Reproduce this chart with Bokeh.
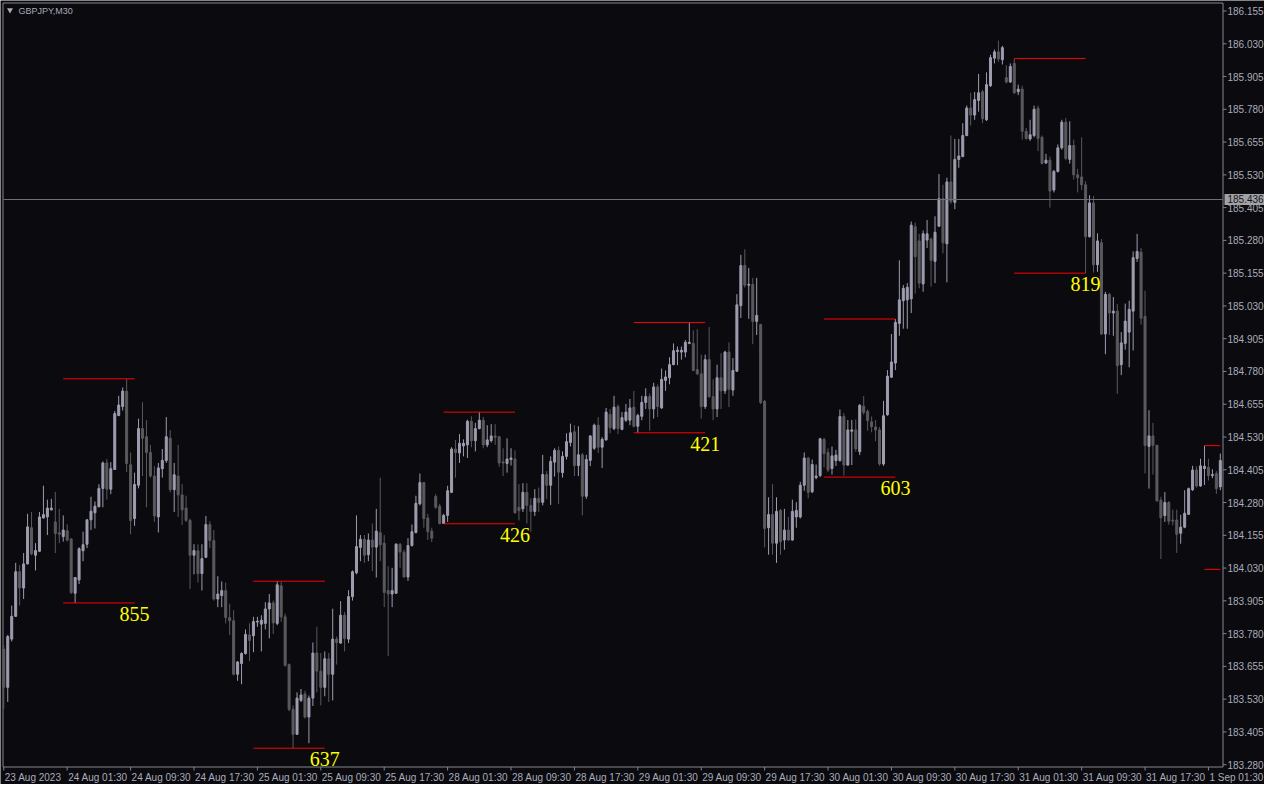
from bokeh.plotting import figure
from bokeh.models import ColumnDataSource, Range1d
from bokeh.core.properties import value
from bokeh.embed import file_html
from bokeh.resources import INLINE

# ---------------- data (GBPJPY, M30) ----------------
opens = [
183.721,183.575,183.759,183.846,184.016,183.954,184.046,184.184,184.079,184.094,
184.221,184.225,184.252,184.206,184.165,184.150,184.172,184.141,183.934,183.985,
184.096,184.121,184.214,184.241,184.264,184.334,184.431,184.331,184.406,184.612,
184.646,184.705,184.424,184.219,184.346,184.562,184.531,184.471,184.381,184.225,
184.409,184.440,184.525,184.329,184.381,184.309,184.259,184.212,184.079,184.096,
184.009,184.071,184.196,184.135,183.912,183.925,183.944,183.841,183.829,183.625,
183.666,183.704,183.775,183.772,183.824,183.816,183.819,183.874,183.897,183.819,
183.962,183.844,183.662,183.491,183.396,183.525,183.550,183.462,183.534,183.706,
183.637,183.575,183.684,183.625,183.759,183.744,183.850,183.759,183.921,184.012,
184.109,184.140,184.081,184.137,184.110,184.165,184.125,183.944,183.931,183.934,
184.121,184.091,183.996,184.116,184.166,184.275,184.356,184.221,184.171,184.303,
184.266,184.200,184.231,184.319,184.484,184.469,184.496,184.500,184.590,184.516,
184.562,184.594,184.500,184.516,184.534,184.531,184.435,184.429,184.444,184.446,
184.262,184.256,184.319,184.269,184.246,184.296,184.281,184.387,184.346,184.434,
184.479,184.394,184.456,184.509,184.550,184.421,184.462,184.304,184.441,184.487,
184.575,184.491,184.519,184.616,184.562,184.646,184.559,184.594,184.594,184.644,
184.571,184.609,184.662,184.684,184.637,184.721,184.641,184.746,184.756,184.806,
184.856,184.854,184.854,184.887,184.887,184.787,184.771,184.646,184.825,184.684,
184.637,184.756,184.706,184.854,184.709,184.781,185.031,185.184,185.109,185.112,
184.971,184.959,184.666,184.184,184.234,184.125,184.250,184.137,184.175,184.137,
184.225,184.225,184.346,184.450,184.321,184.375,184.383,184.521,184.471,184.410,
184.440,184.440,184.608,184.423,184.552,184.557,184.474,184.648,184.628,184.588,
184.568,184.557,184.427,184.615,184.758,184.812,184.963,185.050,185.053,185.057,
185.332,185.278,185.114,185.281,185.285,185.200,185.334,185.439,185.267,185.503,
185.425,185.589,185.600,185.680,185.785,185.758,185.814,185.847,185.740,185.870,
185.975,185.999,185.969,185.901,185.884,185.955,185.847,185.857,185.696,185.667,
185.680,185.784,185.673,185.575,185.586,185.472,185.543,185.633,185.731,185.589,
185.642,185.530,185.522,185.492,185.294,185.423,185.187,185.271,184.923,185.074,
185.003,185.010,184.806,184.887,184.930,185.010,185.211,185.235,184.990,184.494,
184.534,184.498,184.289,184.230,184.280,184.213,184.213,184.163,184.186,184.235,
184.329,184.404,184.343,184.410,184.414,184.383,184.391,184.340]

highs = [
183.737,183.775,183.887,184.050,184.041,184.087,184.237,184.244,184.125,184.244,
184.344,184.291,184.294,184.321,184.256,184.231,184.197,184.144,183.996,184.109,
184.169,184.216,184.302,184.284,184.350,184.437,184.446,184.434,184.629,184.687,
184.719,184.752,184.471,184.394,184.600,184.662,184.594,184.500,184.419,184.431,
184.484,184.606,184.556,184.431,184.500,184.350,184.306,184.219,184.121,184.121,
184.121,184.229,184.209,184.175,183.999,183.979,183.975,183.894,183.869,183.675,
183.709,183.796,183.819,183.844,183.844,183.850,183.900,183.931,183.906,183.980,
183.977,183.856,183.666,183.506,183.556,183.569,183.562,183.544,183.746,183.806,
183.706,183.712,183.706,183.875,183.769,183.904,183.862,183.946,184.021,184.231,
184.156,184.156,184.162,184.200,184.256,184.375,184.156,184.037,184.031,184.125,
184.125,184.100,184.144,184.196,184.306,184.391,184.359,184.237,184.184,184.312,
184.275,184.237,184.344,184.491,184.519,184.541,184.521,184.596,184.609,184.584,
184.625,184.606,184.575,184.579,184.579,184.534,184.487,184.525,184.487,184.479,
184.350,184.354,184.354,184.296,184.331,184.337,184.462,184.400,184.456,184.487,
184.494,184.475,184.544,184.581,184.575,184.571,184.469,184.462,184.537,184.581,
184.606,184.529,184.641,184.637,184.687,184.654,184.625,184.656,184.675,184.706,
184.619,184.687,184.716,184.696,184.737,184.731,184.791,184.784,184.834,184.887,
184.875,184.875,184.900,184.967,184.937,184.941,184.844,184.844,184.950,184.750,
184.806,184.850,184.859,184.891,184.831,185.075,185.225,185.246,185.175,185.137,
185.137,184.962,184.671,184.300,184.350,184.300,184.256,184.256,184.225,184.291,
184.281,184.359,184.471,184.454,184.444,184.425,184.527,184.527,184.487,184.494,
184.481,184.635,184.621,184.595,184.595,184.597,184.655,184.686,184.635,184.608,
184.595,184.568,184.668,184.785,184.923,184.980,185.204,185.110,185.117,185.352,
185.348,185.305,185.318,185.358,185.291,185.372,185.533,185.492,185.519,185.680,
185.667,185.667,185.727,185.794,185.843,185.846,185.915,185.854,185.921,185.988,
186.008,186.042,186.022,185.948,185.955,185.974,185.874,185.870,185.709,185.740,
185.794,185.794,185.680,185.610,185.600,185.549,185.646,185.740,185.747,185.734,
185.664,185.553,185.673,185.506,185.452,185.449,185.307,185.285,185.084,185.080,
185.064,185.037,184.930,185.039,185.050,185.238,185.305,185.251,185.088,184.632,
184.584,184.501,184.302,184.320,184.286,184.253,184.253,184.233,184.327,184.337,
184.420,184.418,184.447,184.497,184.447,184.407,184.400,184.467]

lows = [
183.494,183.519,183.750,183.844,183.887,183.912,184.044,184.079,184.021,184.091,
184.219,184.156,184.250,184.087,184.125,184.131,184.131,183.931,183.897,183.969,
184.056,184.106,184.175,184.181,184.262,184.262,184.291,184.312,184.404,184.609,
184.631,184.396,184.159,184.191,184.334,184.381,184.262,184.375,184.206,184.166,
184.375,184.431,184.319,184.244,184.225,184.194,184.206,183.950,184.006,183.975,
183.944,184.069,184.106,183.906,183.881,183.881,183.819,183.775,183.621,183.600,
183.587,183.700,183.675,183.709,183.806,183.712,183.796,183.762,183.779,183.812,
183.825,183.654,183.484,183.343,183.394,183.519,183.456,183.362,183.504,183.556,
183.506,183.541,183.519,183.525,183.662,183.741,183.712,183.744,183.906,184.006,
184.056,184.050,184.056,184.019,183.994,184.056,183.881,183.694,183.881,183.931,
184.031,183.994,183.981,184.112,184.162,184.269,184.184,184.137,184.129,184.256,
184.196,184.199,184.206,184.316,184.375,184.431,184.456,184.450,184.491,184.475,
184.559,184.487,184.491,184.509,184.500,184.416,184.381,184.394,184.421,184.237,
184.212,184.244,184.200,184.169,184.229,184.244,184.269,184.294,184.271,184.379,
184.275,184.375,184.444,184.494,184.381,184.381,184.231,184.294,184.419,184.481,
184.469,184.412,184.516,184.544,184.556,184.541,184.556,184.587,184.575,184.566,
184.546,184.594,184.637,184.554,184.600,184.606,184.637,184.706,184.731,184.804,
184.804,184.825,184.834,184.884,184.781,184.766,184.600,184.637,184.679,184.594,
184.606,184.637,184.694,184.644,184.687,184.779,184.984,185.100,184.981,184.884,
184.919,184.656,184.109,184.081,184.081,184.050,184.081,184.100,184.134,184.134,
184.184,184.219,184.325,184.296,184.316,184.369,184.377,184.414,184.396,184.387,
184.420,184.436,184.383,184.420,184.423,184.474,184.461,184.615,184.554,184.548,
184.514,184.420,184.420,184.611,184.755,184.785,184.916,184.943,184.943,185.003,
185.077,185.097,185.084,185.251,185.104,185.117,185.332,185.231,185.120,185.419,
185.399,185.557,185.597,185.677,185.718,185.740,185.771,185.727,185.736,185.865,
185.955,185.961,185.951,185.878,185.881,185.838,185.834,185.664,185.664,185.660,
185.673,185.620,185.570,185.573,185.405,185.463,185.539,185.626,185.586,185.573,
185.512,185.463,185.472,185.155,185.291,185.157,185.160,184.919,184.846,184.919,
184.916,184.695,184.766,184.863,184.796,184.860,185.198,184.959,184.391,184.333,
184.387,184.284,184.065,184.206,184.195,184.193,184.088,184.123,184.182,184.233,
184.324,184.337,184.340,184.347,184.364,184.373,184.313,184.327]

closes = [
183.575,183.769,183.846,184.016,183.954,184.046,184.187,184.084,184.097,184.225,
184.234,184.259,184.259,184.162,184.159,184.175,184.137,183.937,183.994,184.104,
184.119,184.214,184.247,184.266,184.334,184.431,184.331,184.409,184.619,184.652,
184.705,184.429,184.211,184.349,184.562,184.525,184.471,184.381,184.229,184.412,
184.441,184.531,184.329,184.386,184.309,184.252,184.212,184.079,184.097,184.009,
184.066,184.196,184.135,183.912,183.931,183.944,183.841,183.829,183.625,183.672,
183.704,183.777,183.754,183.826,183.827,183.831,183.874,183.897,183.821,183.966,
183.844,183.659,183.491,183.396,183.534,183.546,183.462,183.534,183.706,183.637,
183.575,183.684,183.625,183.759,183.746,183.850,183.762,183.921,184.016,184.112,
184.140,184.079,184.137,184.110,184.171,184.119,183.937,183.931,183.944,184.121,
184.091,183.996,184.116,184.169,184.277,184.356,184.219,184.169,184.144,184.262,
184.200,184.231,184.325,184.484,184.471,184.506,184.506,184.590,184.516,184.562,
184.594,184.500,184.519,184.534,184.529,184.431,184.431,184.446,184.450,184.241,
184.249,184.319,184.269,184.246,184.296,184.281,184.387,184.346,184.437,184.479,
184.396,184.456,184.512,184.546,184.421,184.462,184.304,184.444,184.534,184.575,
184.491,184.521,184.625,184.566,184.644,184.562,184.604,184.625,184.641,184.571,
184.612,184.662,184.684,184.637,184.721,184.646,184.750,184.759,184.806,184.859,
184.861,184.861,184.891,184.891,184.784,184.771,184.646,184.825,184.684,184.637,
184.756,184.706,184.854,184.712,184.784,185.034,185.184,185.109,185.112,184.971,
184.994,184.662,184.181,184.234,184.125,184.246,184.131,184.175,184.137,184.246,
184.250,184.346,184.450,184.319,184.425,184.381,184.523,184.467,184.404,184.458,
184.461,184.608,184.423,184.557,184.557,184.485,184.651,184.624,184.592,184.570,
184.557,184.427,184.611,184.762,184.816,184.967,185.053,185.097,185.101,185.338,
185.218,185.117,185.305,185.305,185.204,185.311,185.439,185.271,185.503,185.428,
185.589,185.602,185.680,185.785,185.758,185.817,185.843,185.744,185.874,185.977,
185.999,185.972,186.015,185.884,185.943,185.843,185.857,185.696,185.669,185.683,
185.780,185.669,185.573,185.586,185.468,185.543,185.633,185.731,185.593,185.642,
185.530,185.519,185.492,185.294,185.423,185.187,185.278,184.923,185.074,185.003,
185.010,184.802,184.889,184.972,185.017,185.214,185.238,184.983,184.498,184.534,
184.498,184.286,184.222,184.280,184.209,184.209,184.159,184.186,184.239,184.333,
184.404,184.343,184.420,184.418,184.383,184.387,184.333,184.440]

# time-axis labels (every 16 bars of M30)
x_tick_bars = [0, 16, 32, 48, 64, 80, 96, 112, 128, 144,
               160, 176, 192, 208, 224, 240, 256, 272, 288, 304]
x_tick_labels = ["23 Aug 2023", "24 Aug 01:30", "24 Aug 09:30", "24 Aug 17:30",
                 "25 Aug 01:30", "25 Aug 09:30", "25 Aug 17:30", "28 Aug 01:30",
                 "28 Aug 09:30", "28 Aug 17:30", "29 Aug 01:30", "29 Aug 09:30",
                 "29 Aug 17:30", "30 Aug 01:30", "30 Aug 09:30", "30 Aug 17:30",
                 "31 Aug 01:30", "31 Aug 09:30", "31 Aug 17:30", "1 Sep 01:30"]

# price-axis labels
y_ticks = [183.280, 183.405, 183.530, 183.655, 183.780, 183.905, 184.030, 184.155,
           184.280, 184.405, 184.530, 184.655, 184.780, 184.905, 185.030, 185.155,
           185.280, 185.405, 185.530, 185.655, 185.780, 185.905, 186.030, 186.155]

# swing-range indicator: bar span, high, low
swing_start = [15, 63, 111, 159, 207, 255, 303]
swing_end = [33, 81, 129, 177, 225, 273, 321]
swing_high = [184.752, 183.980, 184.625, 184.967, 184.980, 185.974, 184.497]
swing_low = [183.897, 183.343, 184.199, 184.546, 184.377, 185.155, 184.025]

bid_price = 185.436
symbol = "GBPJPY,M30"

# ---------------- styling / layout ----------------
BG = "#0a0a0f"
FRAME = "#85858f"
TEXT = "#a9acba"
BULL = "#9d9daf"
BEAR = "#5a5a5e"
FONT = "Liberation Sans"

W, H = 1264, 784
X0_PX = 3.3            # screen x of bar 0
AXIS_PX = 1222.5       # screen x of the price-axis line
AXIS_BAR = 307.675     # bar position of the price-axis line
c = (AXIS_PX - X0_PX) / AXIS_BAR          # px per bar
P_REF, Y_REF_PX = 186.155, 10.5           # top tick price and its screen y
P_BOT, Y_BOT_PX = 183.2712, 766.5         # price at the time-axis line
k = (Y_BOT_PX - Y_REF_PX) / (P_REF - P_BOT)   # px per price unit


def bx(px):
    return (px - X0_PX) / c


def py(px):
    return P_REF - (px - Y_REF_PX) / k


p = figure(width=W, height=H, x_range=Range1d(bx(0), bx(W)), y_range=Range1d(py(H), py(0)),
           output_backend="svg", toolbar_location=None,
           x_axis_location=None, y_axis_location=None,
           background_fill_color=BG, border_fill_color=BG,
           min_border_left=0, min_border_top=0, min_border_right=0, min_border_bottom=0)
p.outline_line_color = None
p.xgrid.visible = False
p.ygrid.visible = False

# chart border (left/top) + axis lines (right/bottom)
p.quad(left=[bx(2.5)], right=[bx(AXIS_PX)], top=[py(2.5)], bottom=[py(Y_BOT_PX)],
       fill_color=None, line_color=FRAME, line_width=1)

# candles
n = len(opens)
idx = list(range(n))
tops = [max(o, cl) for o, cl in zip(opens, closes)]
bots = [min(o, cl) for o, cl in zip(opens, closes)]
cols = [BULL if cl >= o else BEAR for o, cl in zip(opens, closes)]
src = ColumnDataSource(dict(x=idx, h=highs, l=lows, top=tops, bottom=bots, color=cols))
p.segment(x0="x", y0="l", x1="x", y1="h", line_color="color", line_width=1, source=src)
p.vbar(x="x", width=2.0 / c, top="top", bottom="bottom", fill_color="color",
       line_color="color", line_width=1, source=src)

# swing range lines and labels
seg_end = [min(e, n - 1) for e in swing_end]
p.segment(x0=swing_start, y0=swing_high, x1=seg_end, y1=swing_high,
          line_color="#ff0000", line_width=1)
p.segment(x0=swing_start, y0=swing_low, x1=seg_end, y1=swing_low,
          line_color="#ff0000", line_width=1)
vis = [i for i, e in enumerate(swing_end) if e <= n - 1]
p.text(x=[swing_end[i] for i in vis], y=[swing_low[i] for i in vis],
       text=[str(int(round((swing_high[i] - swing_low[i]) * 1000))) for i in vis],
       text_color="#ffff00", text_font=value("Liberation Serif"), text_font_size="20px",
       text_align="center", text_baseline="alphabetic", y_offset=11)

# bid line
p.segment(x0=[bx(3)], x1=[bx(AXIS_PX - 0.5)], y0=[bid_price], y1=[bid_price],
          line_color="#707076", line_width=1)

# price axis ticks + labels
p.segment(x0=[bx(AXIS_PX)] * len(y_ticks), x1=[bx(AXIS_PX + 3.5)] * len(y_ticks),
          y0=y_ticks, y1=y_ticks, line_color=FRAME, line_width=1)
p.text(x=[bx(AXIS_PX + 4.5)] * len(y_ticks), y=y_ticks, text=[f"{t:.3f}" for t in y_ticks],
       text_align="left", text_baseline="middle", text_color=TEXT,
       text_font=value(FONT), text_font_size="10px")

# bid price box on the price axis
p.rect(x=[bx(AXIS_PX + 1.5 + 20.0)], y=[bid_price], width=40, height=11,
       width_units="screen", height_units="screen", fill_color="#a2a2a6", line_color=None)
p.text(x=[bx(AXIS_PX + 4.5)], y=[bid_price], text=[f"{bid_price:.3f}"],
       text_align="left", text_baseline="middle", text_color="#15151c",
       text_font=value(FONT), text_font_size="10px")

# time axis ticks + labels
p.segment(x0=x_tick_bars, x1=x_tick_bars, y0=[py(Y_BOT_PX)] * len(x_tick_bars),
          y1=[py(Y_BOT_PX + 3.5)] * len(x_tick_bars), line_color=FRAME, line_width=1)
p.text(x=x_tick_bars, y=[py(Y_BOT_PX + 4.5)] * len(x_tick_bars), text=x_tick_labels,
       text_align="left", text_baseline="top", x_offset=1, text_color=TEXT,
       text_font=value(FONT), text_font_size="10px")

# symbol caption
p.scatter(x=[bx(9.5)], y=[py(9.5)], marker="inverted_triangle", size=6,
          fill_color=TEXT, line_color=None)
p.text(x=[bx(18)], y=[py(10)], text=[symbol], text_align="left", text_baseline="middle",
       text_color=TEXT, text_font=value(FONT), text_font_size="9px")

open("out.html", "w").write(file_html(p, INLINE))
